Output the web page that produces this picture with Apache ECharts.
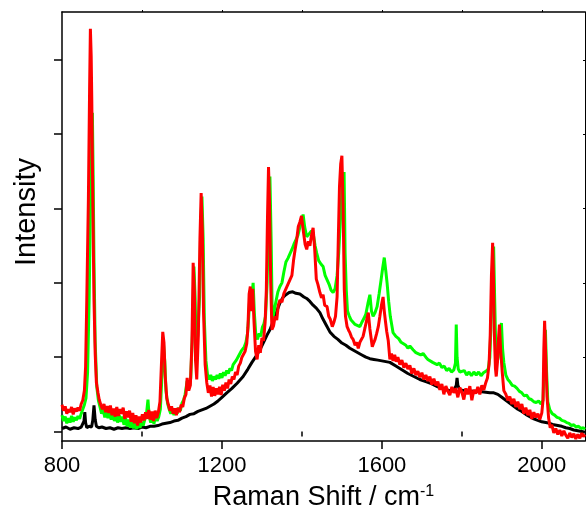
<!DOCTYPE html>
<html>
<head>
<meta charset="utf-8">
<script src="https://cdn.jsdelivr.net/npm/echarts@6/dist/echarts.min.js"></script>
<style>html,body{margin:0;padding:0;background:#fff;}#c{width:586px;height:513px;}</style>
</head>
<body>
<div id="c"></div>
<script>
const xMajorTicks = [800, 1200, 1600, 2000];
const xMinorTicks = [1000, 1400, 1800];
const xTopTicks = [1000, 1200, 1400, 1600, 1800, 2000];
const yTicks = [0, 1, 2, 3, 4, 5];

const blackData = [[800,0.04],[810,0.06],[820,0.03],[830,0.05],[840,0.04],[848,0.06],[853,0.05],[855,0.14],[857,0.26],[859,0.12],[862,0.05],[868,0.07],[874,0.06],[877,0.15],[880,0.35],[883,0.16],[886,0.07],[892,0.05],[900,0.06],[910,0.04],[920,0.05],[930,0.03],[940,0.05],[950,0.04],[960,0.05],[970,0.04],[980,0.05],[990,0.04],[1000,0.06],[1010,0.05],[1020,0.07],[1030,0.07],[1040,0.08],[1050,0.10],[1060,0.11],[1070,0.12],[1080,0.14],[1090,0.15],[1100,0.18],[1110,0.20],[1120,0.23],[1130,0.24],[1140,0.27],[1150,0.29],[1160,0.31],[1170,0.34],[1180,0.37],[1190,0.41],[1200,0.46],[1212,0.52],[1225,0.58],[1238,0.65],[1253,0.74],[1265,0.84],[1275,0.93],[1285,1.01],[1295,1.10],[1305,1.21],[1313,1.30],[1320,1.37],[1328,1.48],[1335,1.58],[1340,1.66],[1345,1.73],[1352,1.80],[1360,1.84],[1368,1.87],[1377,1.88],[1385,1.86],[1395,1.85],[1405,1.81],[1412,1.79],[1420,1.75],[1428,1.70],[1436,1.66],[1445,1.60],[1452,1.52],[1460,1.44],[1470,1.34],[1480,1.28],[1490,1.24],[1500,1.19],[1510,1.16],[1520,1.12],[1530,1.09],[1540,1.06],[1550,1.03],[1560,1.00],[1570,0.98],[1580,0.97],[1590,0.96],[1600,0.95],[1610,0.94],[1620,0.93],[1635,0.88],[1650,0.83],[1665,0.78],[1680,0.74],[1695,0.70],[1710,0.67],[1725,0.64],[1740,0.60],[1755,0.57],[1770,0.55],[1780,0.56],[1786,0.62],[1788,0.72],[1790,0.62],[1795,0.56],[1810,0.55],[1825,0.54],[1840,0.54],[1855,0.53],[1870,0.52],[1880,0.52],[1890,0.50],[1900,0.46],[1910,0.42],[1920,0.38],[1930,0.34],[1940,0.30],[1950,0.27],[1960,0.23],[1970,0.20],[1980,0.17],[1990,0.15],[2000,0.13],[2010,0.12],[2020,0.11],[2030,0.09],[2040,0.08],[2050,0.07],[2060,0.05],[2070,0.04],[2080,0.02],[2090,0.01],[2100,0.00],[2108,-0.01]];

const greenData = [[800,0.22],[804,0.14],[808,0.20],[812,0.11],[816,0.18],[820,0.12],[824,0.21],[828,0.13],[832,0.19],[836,0.15],[840,0.21],[844,0.17],[848,0.24],[852,0.30],[856,0.36],[860,0.45],[864,0.80],[868,1.80],[871,3.00],[874,4.00],[876,4.29],[878,3.40],[880,2.30],[883,1.20],[887,0.60],[891,0.42],[895,0.33],[899,0.24],[903,0.30],[907,0.19],[911,0.27],[915,0.18],[919,0.26],[923,0.16],[927,0.25],[931,0.14],[935,0.24],[939,0.12],[943,0.22],[947,0.13],[951,0.20],[955,0.09],[959,0.18],[963,0.07],[967,0.16],[971,0.05],[975,0.14],[979,0.04],[983,0.13],[987,0.03],[991,0.12],[995,0.05],[999,0.13],[1003,0.08],[1007,0.16],[1011,0.22],[1015,0.43],[1018,0.20],[1022,0.12],[1026,0.21],[1030,0.10],[1034,0.22],[1038,0.14],[1042,0.20],[1046,0.30],[1050,0.75],[1054,1.17],[1057,0.95],[1060,0.55],[1064,0.38],[1068,0.30],[1072,0.24],[1076,0.31],[1080,0.22],[1084,0.30],[1088,0.24],[1092,0.32],[1096,0.28],[1100,0.38],[1104,0.42],[1108,0.50],[1113,0.68],[1118,0.58],[1122,0.72],[1126,1.30],[1130,2.22],[1133,1.80],[1136,0.95],[1140,0.95],[1144,1.80],[1147,2.80],[1150,3.16],[1153,2.60],[1156,1.50],[1160,0.95],[1164,0.76],[1168,0.70],[1172,0.76],[1176,0.68],[1180,0.74],[1184,0.70],[1188,0.76],[1192,0.71],[1196,0.78],[1200,0.72],[1204,0.80],[1208,0.75],[1212,0.82],[1216,0.78],[1220,0.85],[1224,0.82],[1228,0.90],[1232,0.88],[1236,0.96],[1240,1.00],[1244,1.02],[1248,1.08],[1252,1.10],[1256,1.14],[1260,1.20],[1264,1.32],[1267,1.55],[1270,1.85],[1273,1.70],[1276,1.88],[1278,2.00],[1281,1.60],[1285,1.28],[1289,1.24],[1293,1.32],[1297,1.28],[1301,1.40],[1305,1.45],[1309,1.55],[1313,2.00],[1317,3.00],[1320,3.43],[1323,2.60],[1326,1.50],[1330,1.60],[1335,1.75],[1340,1.88],[1345,1.95],[1350,2.00],[1355,2.15],[1360,2.28],[1365,2.33],[1370,2.35],[1375,2.45],[1380,2.52],[1385,2.58],[1390,2.64],[1395,2.75],[1400,2.85],[1403,2.92],[1407,2.75],[1412,2.62],[1418,2.66],[1424,2.70],[1428,2.67],[1433,2.50],[1437,2.40],[1442,2.30],[1448,2.25],[1453,2.22],[1458,2.10],[1463,2.04],[1468,1.98],[1473,1.90],[1478,1.87],[1483,1.92],[1488,2.10],[1492,2.40],[1496,2.81],[1500,3.20],[1503,3.40],[1505.5,3.49],[1508,2.40],[1511,1.90],[1514,1.62],[1518,1.56],[1523,1.50],[1528,1.47],[1533,1.44],[1538,1.46],[1545,1.41],[1550,1.47],[1555,1.52],[1560,1.58],[1565,1.72],[1570,1.84],[1574,1.62],[1578,1.55],[1583,1.60],[1588,1.68],[1593,1.85],[1598,2.04],[1602,2.20],[1606,2.34],[1610,2.15],[1613,2.00],[1617,1.75],[1621,1.55],[1628,1.33],[1635,1.28],[1642,1.25],[1648,1.20],[1653,1.22],[1660,1.16],[1665,1.12],[1670,1.15],[1678,1.10],[1685,1.06],[1690,1.08],[1697,1.03],[1703,1.05],[1710,1.00],[1715,0.97],[1720,0.99],[1727,0.93],[1732,0.95],[1738,0.90],[1744,0.92],[1750,0.86],[1756,0.88],[1762,0.82],[1768,0.85],[1774,0.80],[1780,0.83],[1784,0.92],[1786,1.44],[1788,1.00],[1791,0.84],[1795,0.80],[1800,0.78],[1806,0.82],[1812,0.76],[1818,0.80],[1824,0.75],[1830,0.80],[1836,0.76],[1842,0.80],[1848,0.75],[1854,0.79],[1860,0.81],[1866,0.84],[1870,1.00],[1874,1.60],[1877,2.20],[1879.5,2.49],[1882,1.80],[1885,1.10],[1888,0.93],[1891,1.00],[1895,1.30],[1899,1.46],[1902,1.10],[1905,0.93],[1910,0.76],[1915,0.70],[1920,0.67],[1926,0.62],[1932,0.61],[1938,0.58],[1944,0.54],[1950,0.52],[1956,0.48],[1962,0.49],[1968,0.44],[1974,0.43],[1980,0.40],[1986,0.39],[1992,0.41],[1998,0.37],[2003,0.42],[2006,0.90],[2009,1.37],[2012,0.80],[2015,0.40],[2020,0.29],[2026,0.24],[2032,0.22],[2038,0.19],[2044,0.18],[2050,0.15],[2056,0.14],[2062,0.12],[2068,0.11],[2074,0.08],[2080,0.09],[2086,0.06],[2092,0.07],[2098,0.04],[2104,0.05],[2108,0.03]];

const redData = [[800,0.36],[804,0.28],[808,0.34],[812,0.24],[816,0.30],[820,0.26],[824,0.33],[828,0.23],[832,0.31],[836,0.27],[840,0.32],[844,0.28],[848,0.37],[852,0.42],[856,0.55],[859,0.87],[862,1.77],[866,3.12],[869,4.60],[871,5.42],[873,5.05],[874.5,4.46],[877,3.12],[880,1.77],[883,1.05],[886,0.66],[890,0.52],[893,0.43],[897,0.36],[901,0.30],[905,0.37],[909,0.26],[913,0.34],[917,0.25],[921,0.35],[925,0.22],[929,0.31],[933,0.20],[937,0.33],[941,0.21],[945,0.30],[949,0.24],[953,0.32],[957,0.17],[961,0.27],[965,0.19],[969,0.28],[973,0.13],[977,0.25],[981,0.11],[985,0.22],[989,0.08],[993,0.20],[997,0.12],[1001,0.23],[1005,0.15],[1009,0.26],[1013,0.17],[1017,0.29],[1021,0.16],[1025,0.27],[1029,0.14],[1033,0.28],[1037,0.18],[1041,0.26],[1045,0.40],[1049,0.95],[1052,1.34],[1055,1.20],[1058,0.75],[1062,0.45],[1066,0.36],[1070,0.28],[1074,0.34],[1078,0.24],[1082,0.31],[1086,0.22],[1090,0.32],[1094,0.26],[1098,0.36],[1102,0.33],[1106,0.45],[1110,0.50],[1113,0.72],[1117,0.55],[1121,0.62],[1125,1.20],[1128,2.27],[1131,1.90],[1134,0.95],[1137,0.70],[1141,1.30],[1145,2.60],[1148,3.21],[1151,2.70],[1154,1.60],[1158,0.90],[1162,0.66],[1166,0.52],[1170,0.62],[1174,0.47],[1178,0.60],[1182,0.48],[1186,0.58],[1190,0.50],[1194,0.60],[1198,0.49],[1202,0.63],[1206,0.55],[1210,0.66],[1214,0.58],[1218,0.70],[1222,0.64],[1226,0.74],[1230,0.70],[1234,0.80],[1238,0.76],[1242,0.88],[1246,0.92],[1250,1.00],[1254,0.98],[1258,1.08],[1262,1.18],[1265,1.40],[1268,1.85],[1271,1.95],[1274,1.62],[1277,1.92],[1280,1.50],[1284,1.08],[1288,0.97],[1292,1.16],[1296,1.06],[1300,1.26],[1304,1.22],[1308,1.47],[1311,1.90],[1314,2.90],[1316.5,3.56],[1319,3.10],[1322,2.00],[1325,1.37],[1329,1.42],[1333,1.55],[1337,1.50],[1341,1.70],[1345,1.77],[1350,1.74],[1355,1.86],[1360,1.84],[1365,1.98],[1370,2.04],[1375,2.10],[1379,2.30],[1383,2.45],[1387,2.58],[1391,2.76],[1395,2.82],[1399,2.90],[1403,2.72],[1408,2.52],[1412,2.45],[1416,2.56],[1420,2.50],[1424,2.64],[1428,2.74],[1432,2.45],[1436,2.05],[1440,1.98],[1445,1.87],[1449,1.80],[1453,1.84],[1457,1.70],[1463,1.68],[1467,1.55],[1471,1.51],[1476,1.41],[1480,1.47],[1484,1.55],[1488,1.81],[1491,2.58],[1494,3.30],[1497,3.60],[1500,3.71],[1503,3.02],[1506,1.91],[1509,1.55],[1513,1.41],[1517,1.36],[1520,1.33],[1524,1.27],[1528,1.24],[1533,1.16],[1537,1.20],[1541,1.12],[1545,1.20],[1549,1.18],[1553,1.28],[1558,1.40],[1562,1.50],[1566,1.60],[1570,1.38],[1576,1.14],[1580,1.20],[1583,1.24],[1587,1.32],[1591,1.41],[1595,1.55],[1599,1.70],[1603,1.81],[1606,1.62],[1609,1.48],[1612,1.35],[1616,1.22],[1620,0.97],[1624,1.05],[1628,0.95],[1632,1.03],[1636,0.94],[1640,1.00],[1645,0.90],[1650,0.96],[1655,0.86],[1660,0.92],[1665,0.84],[1670,0.89],[1675,0.78],[1680,0.85],[1685,0.76],[1690,0.81],[1695,0.73],[1700,0.79],[1705,0.70],[1710,0.76],[1715,0.68],[1720,0.74],[1725,0.63],[1730,0.71],[1735,0.62],[1740,0.67],[1745,0.56],[1750,0.64],[1755,0.50],[1760,0.61],[1765,0.54],[1770,0.49],[1775,0.60],[1780,0.52],[1785,0.58],[1790,0.46],[1795,0.59],[1800,0.53],[1805,0.43],[1810,0.58],[1815,0.50],[1820,0.61],[1825,0.42],[1830,0.56],[1835,0.51],[1840,0.60],[1845,0.50],[1850,0.62],[1855,0.56],[1860,0.66],[1864,0.72],[1868,0.90],[1871,1.30],[1874,2.10],[1877,2.54],[1879,2.10],[1881,1.37],[1884,0.85],[1886,0.74],[1889,0.93],[1891,1.20],[1894,1.44],[1897,1.10],[1901,0.80],[1905,0.55],[1910,0.50],[1915,0.42],[1920,0.47],[1925,0.37],[1930,0.44],[1935,0.33],[1940,0.40],[1945,0.30],[1950,0.37],[1955,0.24],[1960,0.32],[1965,0.22],[1970,0.29],[1975,0.17],[1980,0.26],[1985,0.19],[1990,0.24],[1995,0.16],[2000,0.25],[2003,0.42],[2005,1.10],[2007,1.49],[2010,1.00],[2013,0.47],[2017,0.18],[2021,0.05],[2025,0.09],[2030,-0.02],[2035,0.04],[2040,-0.04],[2045,0.02],[2050,-0.06],[2055,0.01],[2060,-0.05],[2065,-0.09],[2070,-0.02],[2075,-0.08],[2080,-0.03],[2085,-0.10],[2090,-0.04],[2095,-0.09],[2100,-0.02],[2104,-0.07],[2108,-0.04]];

const FONT = "'Liberation Sans', Arial, sans-serif";
const chart = echarts.init(document.getElementById('c'), null, {renderer: 'canvas'});
const axisLine = {show: true, onZero: false, lineStyle: {color: '#000', width: 1.5}};

function line(data, color) {
  return {
    type: 'line', data: data, xAxisIndex: 0, yAxisIndex: 0,
    showSymbol: false, symbol: 'none', smooth: false,
    lineStyle: {color: color, width: 3}, itemStyle: {color: color},
    animation: false, clip: true
  };
}

chart.setOption({
  backgroundColor: '#fff',
  animation: false,
  grid: {left: 62, right: 1, top: 12, bottom: 72, containLabel: false, outerBoundsMode: 'none', show: false},
  graphic: [{
    type: 'text', x: 27, y: 212, rotation: Math.PI / 2,
    style: {text: 'Intensity', fontSize: 29, fontFamily: FONT, fill: '#000', align: 'center', verticalAlign: 'middle'}
  }],
  xAxis: [
    {
      type: 'value', min: 800, max: 2108, position: 'bottom',
      axisLine: axisLine,
      axisTick: {show: true, inside: false, length: 8, customValues: xMajorTicks, lineStyle: {color: '#000', width: 1.5}},
      axisLabel: {show: true, customValues: xMajorTicks, fontSize: 22, color: '#000', fontFamily: FONT, margin: 14,
        formatter: function (v) { return String(v); }},
      splitLine: {show: false},
      name: 'Raman Shift / cm{sup|-1}',
      nameLocation: 'middle', nameGap: 43,
      nameTextStyle: {fontSize: 27, color: '#000', fontFamily: FONT,
        rich: {sup: {fontSize: 16, color: '#000', fontFamily: FONT, verticalAlign: 'top', lineHeight: 27}}}
    },
    {
      type: 'value', min: 800, max: 2108, position: 'bottom',
      axisLine: {show: false},
      axisTick: {show: true, inside: false, length: 5, customValues: xMinorTicks, lineStyle: {color: '#000', width: 1.5}},
      axisLabel: {show: false}, splitLine: {show: false}
    },
    {
      type: 'value', min: 800, max: 2108, position: 'top',
      axisLine: axisLine,
      axisTick: {show: true, inside: false, length: 2, customValues: xTopTicks, lineStyle: {color: '#000', width: 1}},
      axisLabel: {show: false}, splitLine: {show: false}
    }
  ],
  yAxis: [
    {
      type: 'value', min: -0.128, max: 5.645, position: 'left',
      axisLine: axisLine,
      axisTick: {show: true, inside: false, length: 8, customValues: yTicks, lineStyle: {color: '#000', width: 1.5}},
      axisLabel: {show: false}, splitLine: {show: false}
    },
    {
      type: 'value', min: -0.128, max: 5.645, position: 'right',
      axisLine: {show: true, onZero: false, lineStyle: {color: '#000', width: 1}},
      axisTick: {show: true, inside: true, length: 2, customValues: yTicks, lineStyle: {color: '#000', width: 1}},
      axisLabel: {show: false}, splitLine: {show: false}
    }
  ],
  series: [
    line(blackData, '#000000'),
    line(greenData, '#00ff00'),
    line(redData, '#ff0000')
  ]
});
</script>
</body>
</html>
